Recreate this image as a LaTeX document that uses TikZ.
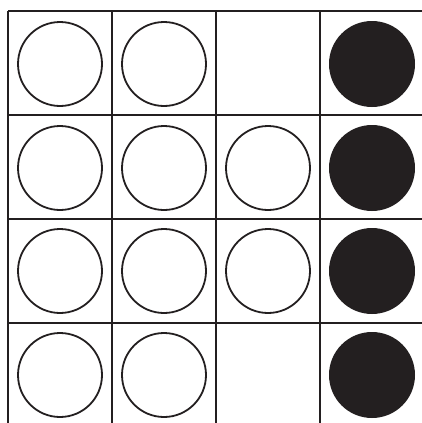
\documentclass[tikz,border=0pt]{standalone}
\definecolor{ink}{HTML}{231F20}
\begin{document}
\begin{tikzpicture}[x=1pt,y=-1pt,
  gridline/.style={draw=ink,line width=2.2pt},
  opendot/.style={circle,draw=ink,line width=1.8pt,minimum size=84pt,inner sep=0pt},
  fulldot/.style={circle,fill=ink,minimum size=86pt,inner sep=0pt}]
\useasboundingbox[fill=white] (0,0) rectangle (422,423);
% grid
\draw[gridline] (8,11) -- (422,11);
\foreach \y in {115,219,323} \draw[gridline] (8,\y) -- (422,\y);
\foreach \x in {8,112,216,320} \draw[gridline] (\x,11) -- (\x,423);
% circles
\node[opendot] (a1) at (60,64) {};
\node[opendot] (a2) at (164,64) {};
\node[fulldot] (a4) at (372,64) {};
\node[opendot] (b1) at (60,168) {};
\node[opendot] (b2) at (164,168) {};
\node[opendot] (b3) at (268,168) {};
\node[fulldot] (b4) at (372,168) {};
\node[opendot] (c1) at (60,271) {};
\node[opendot] (c2) at (164,271) {};
\node[opendot] (c3) at (268,271) {};
\node[fulldot] (c4) at (372,271) {};
\node[opendot] (d1) at (60,375) {};
\node[opendot] (d2) at (164,375) {};
\node[fulldot] (d4) at (372,375) {};
\end{tikzpicture}
\end{document}
